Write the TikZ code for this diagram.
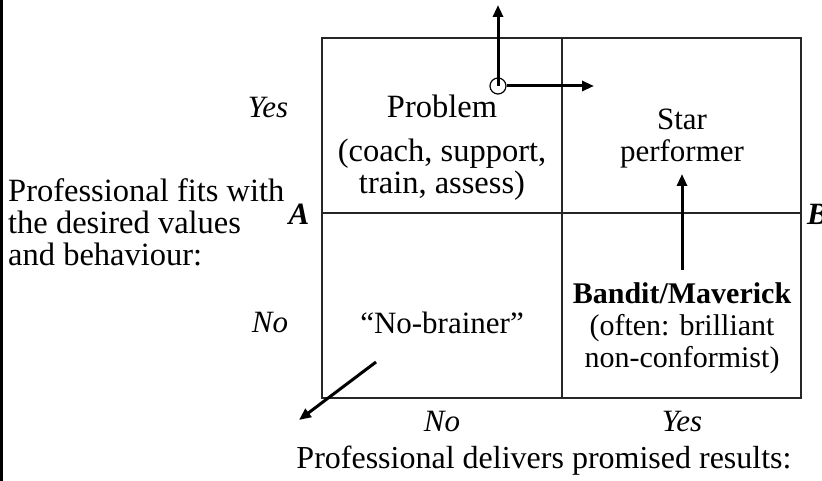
\documentclass[tikz,border=0pt]{standalone}
\usepackage{fontspec}
\setmainfont{Liberation Serif}
\usetikzlibrary{arrows.meta}
\begin{document}
\begin{tikzpicture}[x=1pt,y=-1pt,
  grid/.style={line width=1.4pt,draw=black!85},
  bigarrow/.style={line width=3pt,-{Triangle[length=12pt,width=10pt]}},
  txt/.style={inner sep=0pt,font=\fontsize{31}{32}\selectfont,align=center},
  bigtxt/.style={inner sep=0pt,font=\fontsize{32.5}{32}\selectfont,align=center},
  lbl/.style={txt,font=\fontsize{31}{32}\selectfont\itshape},
  axis/.style={txt,font=\fontsize{31}{32}\selectfont\bfseries\itshape}]
\useasboundingbox (0,0) rectangle (822,481);
% frame line on the left
\draw[line width=3pt] (1.5,0) -- (1.5,481);
% 2x2 grid
\draw[grid] (322,38) rectangle (801,398);
\draw[grid] (562,38) -- (562,398);
\draw[grid] (322,213) -- (801,213);
% row and column labels
\node[lbl] (yesrow) at (268,108) {Yes};
\node[lbl] (norow) at (270,323) {No};
\node[lbl] (nocol) at (442,422) {No};
\node[lbl] (yescol) at (682,422) {Yes};
\node[axis] (A) at (299,214) {A};
\node[axis,anchor=west] (B) at (807,214) {B};
\node[bigtxt,align=left,anchor=west] (vaxis) at (8,222) {Professional fits with\\the desired values\\and behaviour:};
\node[bigtxt,font=\fontsize{32}{32}\selectfont] (haxis) at (544,461) {Professional delivers promised results:};
% quadrant texts
\node[bigtxt] (problem) at (442,148) {Problem\\[12pt](coach, support,\\train, assess)};
\node[txt] (star) at (682,139) {Star\\performer};
\node[txt] (nobrain) at (442,323) {“No-brainer”};
\node[txt,font=\fontsize{30}{32}\selectfont] (bandit) at (682,328) {\textbf{Bandit/Maverick}\\(often: brilliant\\non-conformist)};
% origin marker with its two axes
\node[draw,circle,line width=1.2pt,minimum size=16pt,inner sep=0pt] (o) at (498,86) {};
\coordinate (up) at (498,5);
\coordinate (right) at (594,86);
\draw[bigarrow] (o.center) -- (up);
\draw[bigarrow] (o.east) -- (right);
% movement arrows
\coordinate (bs) at (682,270);
\coordinate (be) at (682,174);
\draw[bigarrow] (bs) -- (be);
\coordinate (ns) at (376,362);
\coordinate (ne) at (299,420);
\draw[bigarrow] (ns) -- (ne);
\end{tikzpicture}
\end{document}
